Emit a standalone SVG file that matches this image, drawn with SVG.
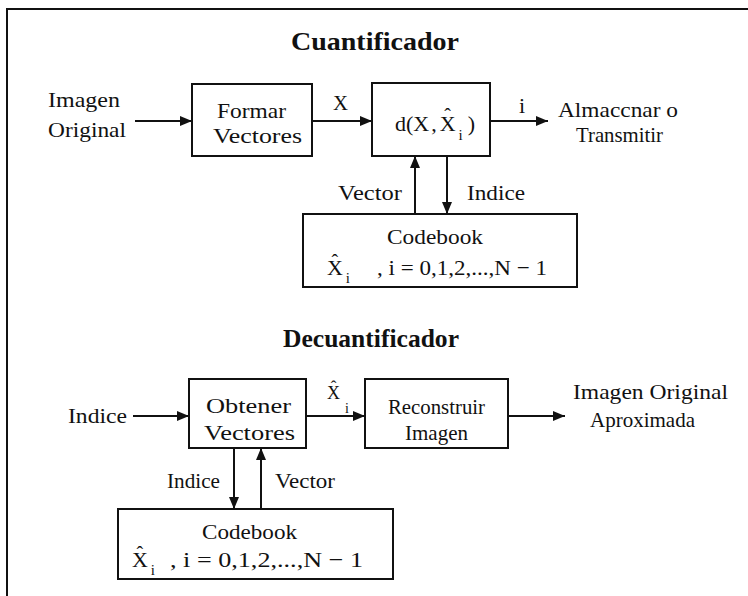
<svg xmlns="http://www.w3.org/2000/svg" width="748" height="596" viewBox="0 0 748 596">
  <style>
    .t { font-family: "Liberation Serif", "Times New Roman", serif; font-size: 22px; fill: #111; }
    .s { font-size: 20px; }
    .sub { font-size: 15px; }
    .hat { font-size: 20px; }
    .title { font-family: "Liberation Serif", "Times New Roman", serif; font-size: 26px; font-weight: bold; fill: #111; }
    .box { fill: #fff; stroke: #111; stroke-width: 2; }
    .line { stroke: #111; stroke-width: 2; fill: none; }
  </style>
  <defs>
    <marker id="arrow" viewBox="0 0 12 10" refX="12" refY="5" markerWidth="12" markerHeight="10" markerUnits="userSpaceOnUse" orient="auto">
      <path d="M0,0 L12,5 L0,10 Z" fill="#111"/>
    </marker>
  </defs>

  <rect width="748" height="596" fill="#fff"/>

  <!-- frame: top and left edges -->
  <path class="line" d="M7,596 L7,9 L748,9"/>

  <!-- section titles -->
  <text class="title" x="291" y="50" textLength="168" lengthAdjust="spacingAndGlyphs">Cuantificador</text>
  <text class="title" x="283" y="347" textLength="176" lengthAdjust="spacingAndGlyphs">Decuantificador</text>

  <!-- connectors -->
  <g id="connectors">
    <line class="line" x1="135" y1="121" x2="192" y2="121" marker-end="url(#arrow)"/>
    <line class="line" x1="312" y1="121" x2="372" y2="121" marker-end="url(#arrow)"/>
    <line class="line" x1="490" y1="121" x2="548" y2="121" marker-end="url(#arrow)"/>
    <line class="line" x1="415" y1="214" x2="415" y2="156" marker-end="url(#arrow)"/>
    <line class="line" x1="447" y1="156" x2="447" y2="214" marker-end="url(#arrow)"/>
    <line class="line" x1="133" y1="416" x2="189" y2="416" marker-end="url(#arrow)"/>
    <line class="line" x1="306" y1="416" x2="365" y2="416" marker-end="url(#arrow)"/>
    <line class="line" x1="508" y1="416" x2="565" y2="416" marker-end="url(#arrow)"/>
    <line class="line" x1="234" y1="448" x2="234" y2="509" marker-end="url(#arrow)"/>
    <line class="line" x1="261" y1="509" x2="261" y2="448" marker-end="url(#arrow)"/>

    <!-- connector labels -->
    <text class="t" x="333" y="110" textLength="15" lengthAdjust="spacingAndGlyphs">X</text>
    <text class="t" x="519" y="113">i</text>
    <text class="t s" x="338" y="200" textLength="64" lengthAdjust="spacingAndGlyphs">Vector</text>
    <text class="t s" x="467" y="200" textLength="58" lengthAdjust="spacingAndGlyphs">Indice</text>
    <text class="t" x="327" y="399" style="font-size:18px">X<tspan class="hat" style="font-size:17px" dx="-9.3" dy="-7">ˆ</tspan><tspan class="sub" style="font-size:14px" dx="8.6" dy="21">i</tspan></text>
    <text class="t s" x="167" y="488" textLength="53" lengthAdjust="spacingAndGlyphs">Indice</text>
    <text class="t s" x="275" y="488" textLength="60" lengthAdjust="spacingAndGlyphs">Vector</text>
  </g>

  <!-- free labels -->
  <g id="input-image">
    <text class="t" x="48" y="107" textLength="72" lengthAdjust="spacingAndGlyphs">Imagen</text>
    <text class="t" x="48" y="137" textLength="78" lengthAdjust="spacingAndGlyphs">Original</text>
  </g>
  <g id="store-transmit">
    <text class="t" x="558" y="117" textLength="120" lengthAdjust="spacingAndGlyphs">Almaccnar o</text>
    <text class="t" x="576" y="142" textLength="87" lengthAdjust="spacingAndGlyphs">Transmitir</text>
  </g>
  <g id="indice-input">
    <text class="t" x="68" y="423" textLength="59" lengthAdjust="spacingAndGlyphs">Indice</text>
  </g>
  <g id="output-image">
    <text class="t" x="573" y="399" textLength="155" lengthAdjust="spacingAndGlyphs">Imagen Original</text>
    <text class="t" x="590" y="427" textLength="105" lengthAdjust="spacingAndGlyphs">Aproximada</text>
  </g>

  <!-- quantizer blocks -->
  <g id="formar-vectores">
    <rect class="box" x="192" y="84" width="120" height="72"/>
    <text class="t" x="217" y="118" textLength="69" lengthAdjust="spacingAndGlyphs">Formar</text>
    <text class="t" x="213" y="143" textLength="89" lengthAdjust="spacingAndGlyphs">Vectores</text>
  </g>

  <g id="distancia">
    <rect class="box" x="372" y="83" width="118" height="73"/>
    <text class="t" x="395" y="131">d(X<tspan dx="2">,</tspan><tspan dx="3">X</tspan><tspan class="hat" dx="-11.3" dy="-8">ˆ</tspan><tspan class="sub" dx="7.6" dy="17">i</tspan><tspan dx="5" dy="-9">)</tspan></text>
  </g>

  <g id="codebook-q">
    <rect class="box" x="303" y="214" width="274" height="73"/>
    <text class="t" x="387" y="244" textLength="96" lengthAdjust="spacingAndGlyphs">Codebook</text>
    <text class="t" x="327" y="275">X<tspan class="hat" dx="-11.3" dy="-6">ˆ</tspan><tspan class="sub" dx="7.6" dy="14">i</tspan></text>
    <text class="t" x="377" y="275" textLength="170" lengthAdjust="spacingAndGlyphs">, i = 0,1,2,...,N − 1</text>
  </g>

  <!-- dequantizer blocks -->
  <g id="obtener-vectores">
    <rect class="box" x="189" y="379" width="117" height="69"/>
    <text class="t" x="206" y="413" textLength="85" lengthAdjust="spacingAndGlyphs">Obtener</text>
    <text class="t" x="204" y="440" textLength="91" lengthAdjust="spacingAndGlyphs">Vectores</text>
  </g>

  <g id="reconstruir-imagen">
    <rect class="box" x="365" y="379" width="143" height="69"/>
    <text class="t" x="388" y="414" textLength="97" lengthAdjust="spacingAndGlyphs">Reconstruir</text>
    <text class="t" x="405" y="440" textLength="63" lengthAdjust="spacingAndGlyphs">Imagen</text>
  </g>

  <g id="codebook-d">
    <rect class="box" x="118" y="509" width="275" height="70"/>
    <text class="t" x="202" y="539" textLength="95" lengthAdjust="spacingAndGlyphs">Codebook</text>
    <text class="t" x="132" y="567">X<tspan class="hat" dx="-11.3" dy="-6">ˆ</tspan><tspan class="sub" dx="7.6" dy="14">i</tspan></text>
    <text class="t" x="170" y="567" textLength="193" lengthAdjust="spacingAndGlyphs">, i = 0,1,2,...,N − 1</text>
  </g>
</svg>
